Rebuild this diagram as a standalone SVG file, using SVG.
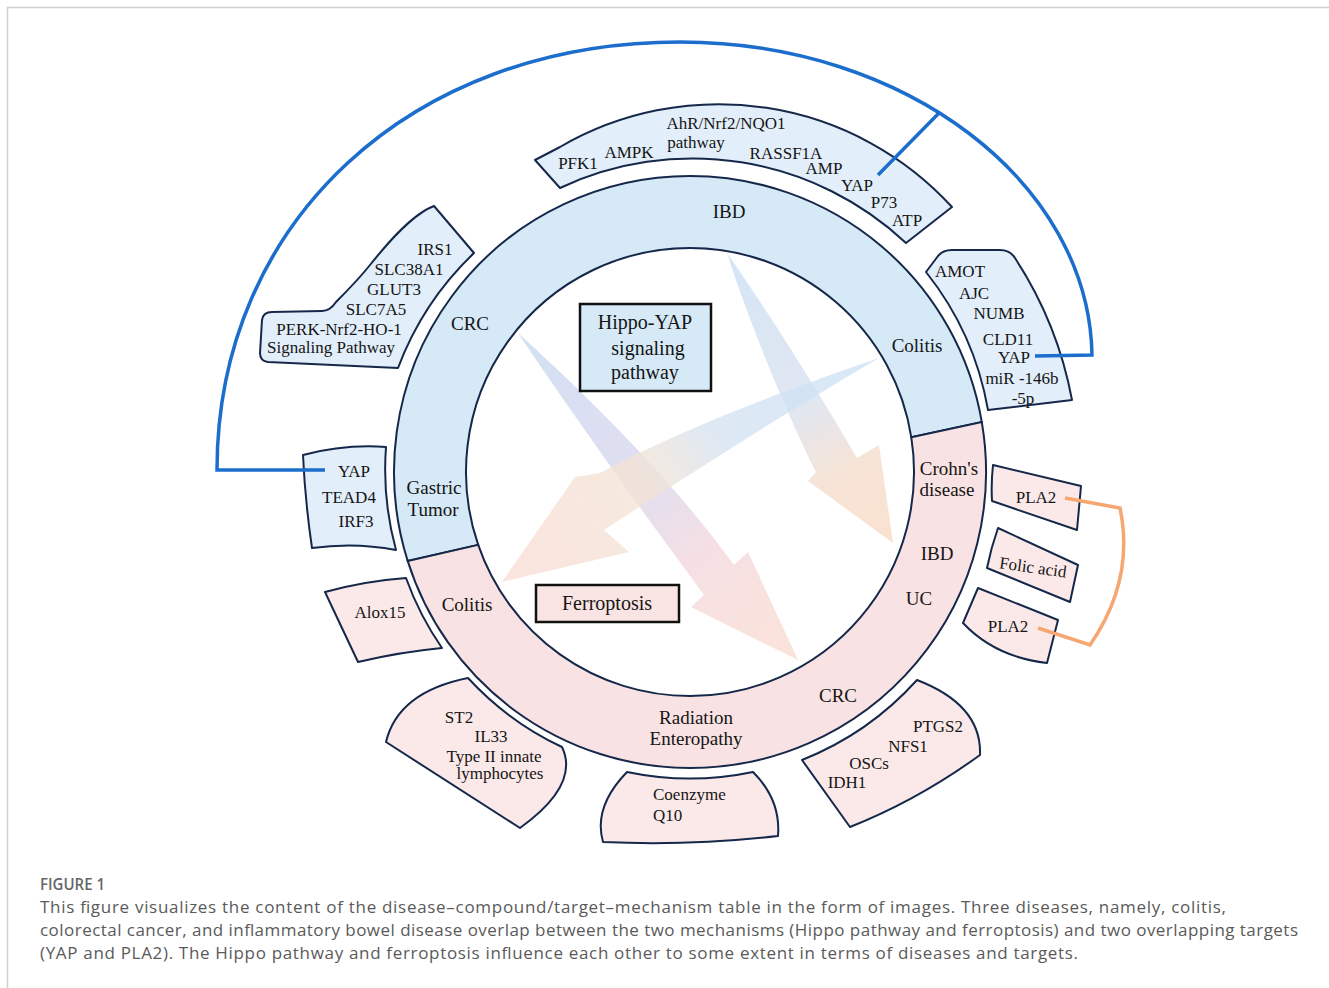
<svg xmlns="http://www.w3.org/2000/svg" width="1329" height="988" viewBox="0 0 1329 988">
  <defs>
    <style>
      .lbl{font-family:"Liberation Serif","Times New Roman",serif;font-size:17px;fill:#151515;text-anchor:middle}
      .rl{font-size:19px}
      .tl{font-size:20px}
      .st{text-anchor:start}
      .bb{fill:#e2eef9;stroke:#15284a;stroke-width:2;stroke-linejoin:round}
      .bp{fill:#fbe9e9;stroke:#15284a;stroke-width:2;stroke-linejoin:round}
      .cap{font-family:"Open Sans","Noto Sans","Liberation Sans",sans-serif;font-size:17px;fill:#5a5a5a}
      .arw{fill-opacity:0.78}
    </style>
    <linearGradient id="g1" gradientUnits="userSpaceOnUse" x1="518" y1="333" x2="798" y2="660">
      <stop offset="0" stop-color="#c6d8f0"/>
      <stop offset="0.45" stop-color="#d8d5ec"/>
      <stop offset="0.68" stop-color="#f4d7dc"/>
      <stop offset="1" stop-color="#f9dccd"/>
    </linearGradient>
    <linearGradient id="g2" gradientUnits="userSpaceOnUse" x1="727" y1="253" x2="893" y2="543">
      <stop offset="0" stop-color="#c9def3"/>
      <stop offset="0.5" stop-color="#d7e0ee"/>
      <stop offset="0.75" stop-color="#f5dccb"/>
      <stop offset="1" stop-color="#f8d9c2"/>
    </linearGradient>
    <linearGradient id="g3" gradientUnits="userSpaceOnUse" x1="879" y1="358" x2="502" y2="582">
      <stop offset="0" stop-color="#cde2f5"/>
      <stop offset="0.4" stop-color="#d4e2f1"/>
      <stop offset="0.6" stop-color="#f3e3d4"/>
      <stop offset="1" stop-color="#f9ddd6"/>
    </linearGradient>
  </defs>

  <rect x="0" y="0" width="1329" height="988" fill="#ffffff"/>
  <!-- page frame -->
  <path d="M7.5 988 V7.5 H1329" fill="none" stroke="#cfcfcf" stroke-width="1.5"/>

  <!-- central ring: Hippo (blue) and ferroptosis (pink) halves, centre (690,472) -->
  <g id="ring">
    <path d="M407.7 561 A296 296 0 0 1 690 176 A296 296 0 0 1 981.8 422.1 L911.3 437.3 A224 224 0 0 0 690 248 A224 224 0 0 0 478.2 544.9 Z" fill="#d5e9f7" stroke="#15284a" stroke-width="2"/>
    <path d="M981.8 422.1 A296 296 0 0 1 690 768 A296 296 0 0 1 407.7 561 L478.2 544.9 A224 224 0 0 0 690 696 A224 224 0 0 0 911.3 437.3 Z" fill="#f9e2e3" stroke="#15284a" stroke-width="2"/>
    <text class="lbl rl" x="729" y="218">IBD</text>
    <text class="lbl rl" x="470" y="330">CRC</text>
    <text class="lbl rl" x="917" y="352">Colitis</text>
    <text class="lbl rl" x="434" y="494">Gastric</text>
    <text class="lbl rl" x="433" y="516">Tumor</text>
    <text class="lbl rl" x="949" y="475">Crohn's</text>
    <text class="lbl rl" x="947" y="496">disease</text>
    <text class="lbl rl" x="937" y="560">IBD</text>
    <text class="lbl rl" x="919" y="605">UC</text>
    <text class="lbl rl" x="467" y="611">Colitis</text>
    <text class="lbl rl" x="838" y="702">CRC</text>
    <text class="lbl rl" x="696" y="724">Radiation</text>
    <text class="lbl rl" x="696" y="745">Enteropathy</text>
  </g>

  <!-- crossing arrows inside the ring -->
  <g id="arrows">
    <path class="arw" fill="url(#g2)" d="M727 253 C760 300 815 385 857 458 L879 445 L893 543 L808 481 L816 472 C795 430 755 340 727 253 Z"/>
    <path class="arw" fill="url(#g1)" d="M518 333 C575 385 665 470 734 565 L748 552 L798 660 L691 607 L704 595 C660 535 590 440 518 333 Z"/>
    <path class="arw" fill="url(#g3)" d="M879 358 C800 385 690 425 600 473 L575 477 L502 582 L629 552 L604 530 C680 480 790 410 879 358 Z"/>
  </g>

  <!-- mechanism labels -->
  <g id="hippo">
    <rect x="580" y="304" width="131" height="87" fill="#d5e9f7" stroke="#111" stroke-width="2.5"/>
    <text class="lbl tl" x="645" y="329">Hippo-YAP</text>
    <text class="lbl tl" x="648" y="355">signaling</text>
    <text class="lbl tl" x="645" y="379">pathway</text>
  </g>
  <g id="ferroptosis">
    <rect x="536" y="585" width="143" height="37" fill="#fae3e3" stroke="#111" stroke-width="2.5"/>
    <text class="lbl tl" x="607" y="610">Ferroptosis</text>
  </g>

  <!-- Hippo-side target boxes -->
  <g id="box-ibd">
    <path class="bb" d="M560 188 L535 160 L560 147 A316 316 0 0 1 952 207 L906 243 A312 312 0 0 0 560 188 Z"/>
    <text class="lbl" x="726" y="129">AhR/Nrf2/NQO1</text>
    <text class="lbl" x="696" y="148">pathway</text>
    <text class="lbl" x="578" y="169">PFK1</text>
    <text class="lbl" x="629" y="158">AMPK</text>
    <text class="lbl" x="786" y="159">RASSF1A</text>
    <text class="lbl" x="824" y="174">AMP</text>
    <text class="lbl" x="857" y="191">YAP</text>
    <text class="lbl" x="884" y="208">P73</text>
    <text class="lbl" x="907" y="226">ATP</text>
  </g>
  <g id="box-crc">
    <path class="bb" d="M434 206 L474 253 A309 309 0 0 0 398 368 L268 362 Q260 361 260 353 L262 320 Q263 312 272 312 L322 311 Q330 311 336 302 C348 290 358 280 370 265 S410 215 434 206 Z"/>
    <text class="lbl" x="435" y="255">IRS1</text>
    <text class="lbl" x="409" y="275">SLC38A1</text>
    <text class="lbl" x="394" y="295">GLUT3</text>
    <text class="lbl" x="376" y="315">SLC7A5</text>
    <text class="lbl" x="339" y="335">PERK-Nrf2-HO-1</text>
    <text class="lbl" x="331" y="353">Signaling Pathway</text>
  </g>
  <g id="box-colitis">
    <path class="bb" d="M926 272 L938 256 Q943 250 952 250 L1000 250 Q1010 250 1015 258 A388 388 0 0 1 1072 400 L988 410 A306 306 0 0 0 926 272 Z"/>
    <text class="lbl" x="960" y="277">AMOT</text>
    <text class="lbl" x="974" y="299">AJC</text>
    <text class="lbl" x="999" y="319">NUMB</text>
    <text class="lbl" x="1008" y="345">CLD11</text>
    <text class="lbl" x="1014" y="363">YAP</text>
    <text class="lbl" x="1022" y="384">miR -146b</text>
    <text class="lbl" x="1023" y="404">-5p</text>
  </g>
  <g id="box-gastric">
    <path class="bb" d="M303 455 Q345 444 386 447 A304 304 0 0 0 396 550 Q355 542 312 548 Q305 500 303 455 Z"/>
    <text class="lbl" x="354" y="477">YAP</text>
    <text class="lbl" x="349" y="503">TEAD4</text>
    <text class="lbl" x="356" y="527">IRF3</text>
  </g>

  <!-- ferroptosis-side target boxes -->
  <g id="box-alox15">
    <path class="bp" d="M325 592 Q365 581 406 578 A304 304 0 0 0 442 648 Q400 652 358 662 Q342 628 325 592 Z"/>
    <text class="lbl" x="380" y="618">Alox15</text>
  </g>
  <g id="box-st2">
    <path class="bp" d="M386 742 Q398 692 468 678 A304 304 0 0 0 562 747 Q580 785 520 828 L386 742 Z"/>
    <text class="lbl" x="459" y="723">ST2</text>
    <text class="lbl" x="491" y="742">IL33</text>
    <text class="lbl" x="494" y="762">Type II innate</text>
    <text class="lbl" x="500" y="779">lymphocytes</text>
  </g>
  <g id="box-coq10">
    <path class="bp" d="M627 772 A307 307 0 0 0 753 772 Q781 800 778 836 Q690 846 603 842 Q593 807 627 772 Z"/>
    <text class="lbl st" x="653" y="800">Coenzyme</text>
    <text class="lbl st" x="653" y="821">Q10</text>
  </g>
  <g id="box-crc-ferro">
    <path class="bp" d="M917 680 A308 308 0 0 1 802 760 L850 827 Q918 800 980 755 Q982 705 917 680 Z"/>
    <text class="lbl" x="938" y="732">PTGS2</text>
    <text class="lbl" x="908" y="752">NFS1</text>
    <text class="lbl" x="869" y="769">OSCs</text>
    <text class="lbl" x="847" y="788">IDH1</text>
  </g>
  <g id="box-pla2-a">
    <path class="bp" d="M993 465 L1081 486 L1077 530 L992 501 Q991 483 993 465 Z"/>
    <text class="lbl" x="1036" y="503">PLA2</text>
  </g>
  <g id="box-folic">
    <path class="bp" d="M998 528 L1078 565 L1070 602 L987 568 Q991 548 998 528 Z"/>
    <text class="lbl" x="1033" y="573" transform="rotate(8 1033 567)">Folic acid</text>
  </g>
  <g id="box-pla2-b">
    <path class="bp" d="M978 588 L1058 620 L1047 663 Q995 657 963 623 Z"/>
    <text class="lbl" x="1008" y="632">PLA2</text>
  </g>

  <!-- shared-target connectors -->
  <g id="connectors" fill="none" stroke-linecap="butt" stroke-linejoin="miter">
    <path stroke="#1c6ecd" stroke-width="3.5" d="M325 470 L217 470 C217 222 411 42 680 42 C906.6 42 1089 183 1092 355 L1035 356"/>
    <path stroke="#1c6ecd" stroke-width="3.5" d="M878 175 L940 112"/>
    <path stroke="#f6a670" stroke-width="3.5" d="M1065 498 L1120 508 Q1135 580 1090 645 L1038 628"/>
  </g>

  <!-- caption -->
  <g id="caption">
    <text class="cap" x="40" y="890" style="font-weight:600;fill:#666" textLength="65" lengthAdjust="spacingAndGlyphs">FIGURE 1</text>
    <text class="cap" x="40" y="913" textLength="1186" lengthAdjust="spacing">This figure visualizes the content of the disease–compound/target–mechanism table in the form of images. Three diseases, namely, colitis,</text>
    <text class="cap" x="40" y="936" textLength="1258" lengthAdjust="spacing">colorectal cancer, and inflammatory bowel disease overlap between the two mechanisms (Hippo pathway and ferroptosis) and two overlapping targets</text>
    <text class="cap" x="40" y="959" textLength="1038" lengthAdjust="spacing">(YAP and PLA2). The Hippo pathway and ferroptosis influence each other to some extent in terms of diseases and targets.</text>
  </g>
</svg>
